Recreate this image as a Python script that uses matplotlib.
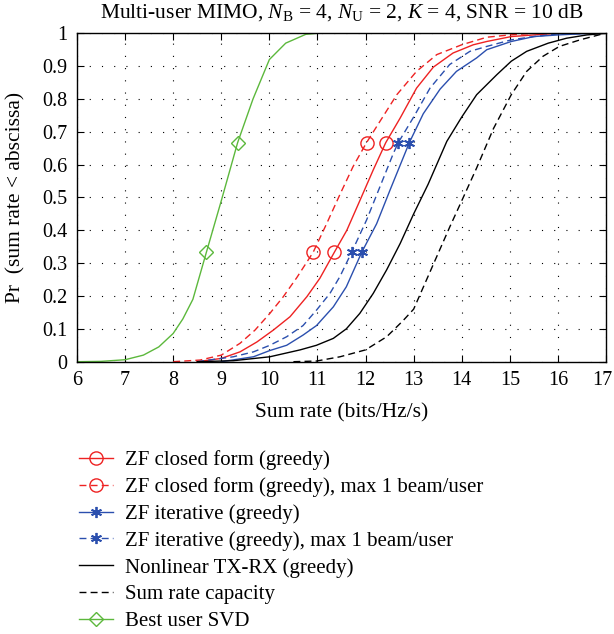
import numpy as np
import matplotlib
matplotlib.use("Agg")
import matplotlib.pyplot as plt
import matplotlib.transforms as mtransforms

# values (sum rate in bits/Hz/s, CDF)
zf_x = [8.5, 9.0, 9.39, 9.74, 10.08, 10.43, 10.78, 11.05, 11.35, 11.61, 11.88, 12.16, 12.42,
        12.72, 13.06, 13.41, 13.82, 14.24, 14.52, 15.03, 15.5, 16.0, 17.0]
zf_y = [0, 0.01, 0.03, 0.06, 0.096, 0.137, 0.198, 0.254, 0.333, 0.40, 0.49, 0.584, 0.667,
        0.742, 0.833, 0.897, 0.94, 0.965, 0.975, 0.99, 0.995, 1.0, 1.0]

zf1_x = [8.0, 8.56, 9.0, 9.39, 9.7, 10.01, 10.29, 10.57, 10.91, 11.19, 11.47, 11.74, 12.02,
         12.3, 12.65, 13.06, 13.48, 14.0, 14.52, 15.0, 15.5, 17.0]
zf1_y = [0, 0.005, 0.02, 0.056, 0.096, 0.147, 0.198, 0.256, 0.333, 0.42, 0.51, 0.594, 0.667,
         0.732, 0.813, 0.884, 0.935, 0.965, 0.988, 0.995, 1.0, 1.0]

it_x = [9.0, 9.67, 10.01, 10.36, 10.7, 10.98, 11.33, 11.6, 11.92, 12.23, 12.51, 12.91, 13.2,
        13.55, 13.89, 14.31, 14.52, 15.03, 15.5, 16.0, 16.7, 17.0]
it_y = [0, 0.015, 0.034, 0.05, 0.081, 0.11, 0.167, 0.228, 0.333, 0.42, 0.523, 0.667, 0.755,
        0.83, 0.884, 0.925, 0.95, 0.975, 0.99, 0.995, 1.0, 1.0]

it1_x = [8.5, 9.25, 9.67, 10.01, 10.36, 10.7, 10.98, 11.26, 11.47, 11.71, 12.02, 12.3, 12.58,
         12.68, 13.0, 13.34, 13.75, 14.17, 14.52, 15.03, 15.5, 16.0, 17.0]
it1_y = [0, 0.015, 0.03, 0.05, 0.076, 0.11, 0.157, 0.208, 0.26, 0.333, 0.431, 0.533, 0.635,
         0.667, 0.745, 0.833, 0.905, 0.945, 0.96, 0.98, 0.99, 0.998, 1.0]

nl_x = [8.5, 9.25, 10.01, 10.64, 10.98, 11.33, 11.6, 11.88, 12.16, 12.44, 12.72, 13.0, 13.3,
        13.69, 14.0, 14.31, 14.73, 15.03, 15.35, 15.8, 16.18, 16.6, 17.0]
nl_y = [0, 0.003, 0.015, 0.036, 0.05, 0.071, 0.10, 0.147, 0.208, 0.28, 0.36, 0.45, 0.54,
        0.671, 0.745, 0.813, 0.874, 0.915, 0.945, 0.97, 0.985, 0.995, 1.0]

cap_x = [10.5, 10.98, 11.47, 12.0, 12.44, 12.78, 13.0, 13.27, 13.51, 13.75, 14.0, 14.31,
         14.66, 15.03, 15.35, 15.69, 16.03, 16.46, 16.9, 17.0]
cap_y = [0, 0.002, 0.015, 0.036, 0.076, 0.125, 0.16, 0.25, 0.33, 0.41, 0.49, 0.59,
         0.71, 0.813, 0.884, 0.93, 0.96, 0.98, 0.997, 1.0]

svd_x = [6.0, 6.5, 7.0, 7.38, 7.7, 8.0, 8.2, 8.41, 8.69, 9.0, 9.34, 9.66, 10.0, 10.34,
         10.76, 11.0, 12.0]
svd_y = [0, 0.001, 0.006, 0.02, 0.045, 0.086, 0.13, 0.19, 0.333, 0.49, 0.667, 0.80, 0.92,
         0.97, 0.997, 1.0, 1.0]

labels = ["ZF closed form (greedy)",
          "ZF closed form (greedy), max 1 beam/user",
          "ZF iterative (greedy)",
          "ZF iterative (greedy), max 1 beam/user",
          "Nonlinear TX-RX (greedy)",
          "Sum rate capacity",
          "Best user SVD"]

red = "#ee2222"
blue = "#2b4fae"
green = "#5cb83c"

plt.rcParams['font.family'] = ['Liberation Serif', 'DejaVu Serif']
plt.rcParams['mathtext.fontset'] = 'custom'
plt.rcParams['mathtext.rm'] = 'Liberation Serif'
plt.rcParams['mathtext.it'] = 'Liberation Serif:italic'

fig = plt.figure(figsize=(6.14, 6.34), dpi=100)
ax = fig.add_axes([0.1254, 0.4295, 0.8616, 0.518])


def marks(y):
    # marker positions at the 1/3 and 2/3 levels
    return [i for i, v in enumerate(y) if v in (0.333, 0.667)]


ax.plot(zf_x, zf_y, '-', color=red, lw=1, marker='o', ms=9.5, mfc='none', mew=1,
        markevery=marks(zf_y), label=labels[0])
ax.plot(zf1_x, zf1_y, '--', color=red, lw=1, marker='o', ms=9.5, mfc='none', mew=1,
        markevery=marks(zf1_y), label=labels[1], dashes=(5, 3))
ax.plot(it_x, it_y, '-', color=blue, lw=1, marker=(6, 2, 0), ms=8, mew=1.3,
        markevery=marks(it_y), label=labels[2])
ax.plot(it1_x, it1_y, '--', color=blue, lw=1, marker=(6, 2, 0), ms=8, mew=1.3,
        markevery=marks(it1_y), label=labels[3], dashes=(5, 3))
ax.plot(nl_x, nl_y, '-', color='black', lw=1, label=labels[4])
ax.plot(cap_x, cap_y, '--', color='black', lw=1, label=labels[5], dashes=(5, 3))
ax.plot(svd_x, svd_y, '-', color=green, lw=1, marker='D', ms=7, mfc='none', mew=1,
        markevery=marks(svd_y), label=labels[6])

ax.set_xlim(6, 17)
ax.set_ylim(0, 1)
ax.set_xticks(np.arange(6, 18, 1))
ax.set_yticks(np.arange(0, 1.01, 0.1))
ax.set_yticklabels(["0", "0.1", "0.2", "0.3", "0.4", "0.5", "0.6", "0.7", "0.8", "0.9", "1"])
ax.grid(True, color='black', linestyle=(0, (1, 10)), lw=0.8)
ax.tick_params(direction='in', top=True, right=True, length=5, labelsize=14.5)
ax.tick_params(axis='x', pad=7)
ax.tick_params(axis='y', pad=7)
for s in ax.spines.values():
    s.set_linewidth(1)

# last x label sits on the figure edge, nudge it in a little
lab17 = ax.get_xticklabels()[-1]
lab17.set_transform(lab17.get_transform() +
                    mtransforms.ScaledTranslation(-3 / 72, 0, fig.dpi_scale_trans))

ax.set_xlabel("Sum rate (bits/Hz/s)", fontsize=15.5, labelpad=9)
ax.set_ylabel("Pr  (sum rate < abscissa)", fontsize=15.5, labelpad=12)
ax.set_title(r"Multi-user MIMO, $N_\mathrm{B}$ = 4, $N_\mathrm{U}$ = 2, $K$ = 4, SNR = 10 dB",
             fontsize=15.5, pad=11)

fig.legend(loc='upper left', bbox_to_anchor=(0.115, 0.303), frameon=False, fontsize=15,
           handlelength=1.63, handletextpad=0.58, labelspacing=0.34, borderaxespad=0)

fig.savefig("out.png", dpi=100)
